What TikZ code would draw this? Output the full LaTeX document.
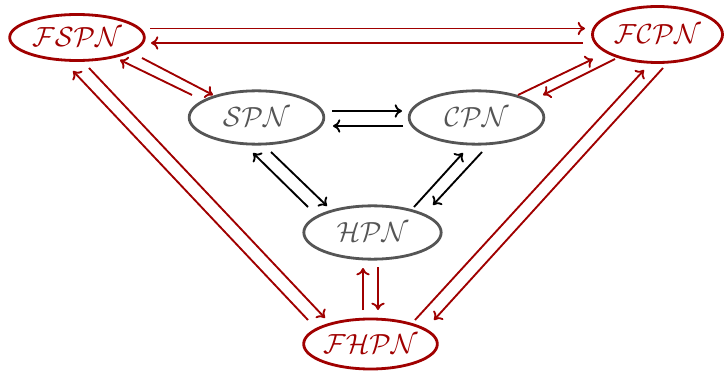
\documentclass[tikz,border=0pt]{standalone}
\usetikzlibrary{shapes.geometric,arrows.meta,calc}
\definecolor{netred}{RGB}{160,0,0}
\definecolor{netgray}{RGB}{85,85,85}
\begin{document}
\begin{tikzpicture}[x=0.75pt,y=-0.75pt,
  net/.style={ellipse,draw,line width=2.1pt,inner sep=0pt,
    font=\fontsize{22}{26}\selectfont},
  fuzzy/.style={net,draw=netred,text=netred},
  crisp/.style={net,draw=netgray,text=netgray},
  link/.style={line width=1.4pt,-{To[length=5.5pt,width=10pt]}},
  redlink/.style={link,draw=netred},
  blacklink/.style={link,draw=black}]
\useasboundingbox (0,0) rectangle (725,374);

% fuzzy nets
\node[fuzzy,minimum width=101pt,minimum height=34.5pt] (fs) at (77,37.5) {$\mathcal{FSPN}$};
\node[fuzzy,minimum width=97.5pt,minimum height=42pt] (fc) at (657.5,34.5) {$\mathcal{FCPN}$};
\node[fuzzy,minimum width=100pt,minimum height=37.5pt] (fh) at (370.5,344) {$\mathcal{FHPN}$};

% crisp nets
\node[crisp,minimum width=101pt,minimum height=40pt] (s) at (256.5,117.5) {$\mathcal{SPN}$};
\node[crisp,minimum width=101pt,minimum height=40pt] (c) at (476.5,117.5) {$\mathcal{CPN}$};
\node[crisp,minimum width=103pt,minimum height=40pt] (h) at (372.5,232.5) {$\mathcal{HPN}$};

% links between fuzzy nets
\draw[redlink] ($(fs)+(73,-9)$) -- ($(fc)+(-72.5,-6)$);
\draw[redlink] ($(fc)+(-74.5,8.5)$) -- ($(fs)+(74,5.5)$);
\draw[redlink] ($(fh)+(-62.5,-24)$) -- ($(fs)+(-4,33.5)$);
\draw[redlink] ($(fs)+(12,30.5)$) -- ($(fh)+(-45.5,-26)$);
\draw[redlink] ($(fh)+(44.5,-24)$) -- ($(fc)+(-13.5,35.5)$);
\draw[redlink] ($(fc)+(5.5,33.5)$) -- ($(fh)+(63.5,-24)$);

% links between fuzzy and crisp nets
\draw[redlink] ($(fs)+(65,20.5)$) -- ($(s)+(-43.5,-22.5)$);
\draw[redlink] ($(s)+(-64.5,-22.5)$) -- ($(fs)+(43,22.5)$);
\draw[redlink] ($(c)+(41.5,-22.5)$) -- ($(fc)+(-64.5,24.5)$);
\draw[redlink] ($(fc)+(-42.5,24.5)$) -- ($(c)+(66.5,-22.5)$);
\draw[redlink] ($(fh)+(-7.5,-34)$) -- ($(h)+(-9.5,35.5)$);
\draw[redlink] ($(h)+(5.5,34.5)$) -- ($(fh)+(7.5,-34)$);

% links between crisp nets
\draw[blacklink] ($(s)+(75.5,-6.5)$) -- ($(c)+(-74.5,-6.5)$);
\draw[blacklink] ($(c)+(-73.5,8.5)$) -- ($(s)+(76.5,8.5)$);
\draw[blacklink] ($(h)+(-64.5,-25.5)$) -- ($(s)+(-3.5,35.5)$);
\draw[blacklink] ($(s)+(14.5,34.5)$) -- ($(h)+(-45.5,-26.5)$);
\draw[blacklink] ($(h)+(41.5,-25.5)$) -- ($(c)+(-13.5,35.5)$);
\draw[blacklink] ($(c)+(5.5,34.5)$) -- ($(h)+(60.5,-27.5)$);
\end{tikzpicture}
\end{document}
